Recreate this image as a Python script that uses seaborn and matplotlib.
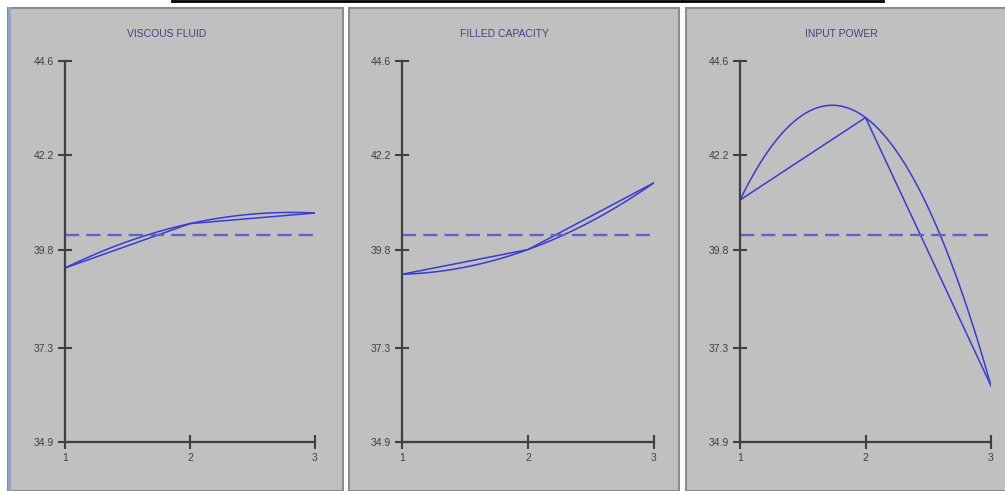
import matplotlib
matplotlib.use("Agg")
import matplotlib.pyplot as plt
from matplotlib.patches import Rectangle
from matplotlib.lines import Line2D
import numpy as np
import pandas as pd
import seaborn as sns

sns.set_style({'axes.grid': False})
plt.rcParams['font.family'] = ['Liberation Sans', 'DejaVu Sans']

# main effect means
factors = ["VISCOUS FLUID", "FILLED CAPACITY", "INPUT POWER"]
levels = [1, 2, 3]
viscous_fluid = [39.33, 40.46, 40.73]
filled_capacity = [39.17, 39.80, 41.50]
input_power = [41.06, 43.16, 36.33]
y_ticks = [34.9, 37.3, 39.8, 42.2, 44.6]

W, H = 1005, 491

def fx(px):
    return px / W

def fy(px):
    return 1 - px / H

fig = plt.figure(figsize=(W / 100, H / 100), dpi=100)
fig.patch.set_facecolor("white")

# gray panel backgrounds (pixel boxes: left, right)
panel_boxes = [(8, 343), (349, 679), (686, 1010)]
for left, right in panel_boxes:
    fig.add_artist(Rectangle((fx(left), 0), fx(right - left), fy(7.5),
                             transform=fig.transFigure, facecolor="#c0c0c0",
                             edgecolor="#8c8c8c", lw=1.5, zorder=-10))
# thin bluish edge on the far left panel
fig.add_artist(Line2D([fx(9), fx(9)], [0, fy(8)], transform=fig.transFigure,
                      color="#8fa6c6", lw=2, zorder=-5))
# black rule left over at the top
fig.add_artist(Line2D([fx(172), fx(883)], [fy(1), fy(1)], transform=fig.transFigure,
                      color="black", lw=2, zorder=-5))

axis_boxes = [(65, 315), (402, 654), (740, 991)]
top_px, bottom_px = 61, 442
all_means = [viscous_fluid, filled_capacity, input_power]
grand_mean = np.mean(np.concatenate(all_means))

line_col = "#3a3ad4"
for name, means, (left, right) in zip(factors, all_means, axis_boxes):
    ax = fig.add_axes([fx(left), fy(bottom_px), fx(right - left), (bottom_px - top_px) / H])
    ax.patch.set_alpha(0)
    df = pd.DataFrame({"level": levels, "mean": means})

    # straight segments between the level means
    sns.lineplot(data=df, x="level", y="mean", ax=ax, color=line_col, lw=1.1)
    # quadratic curve through the same points
    sns.regplot(data=df, x="level", y="mean", ax=ax, order=2, ci=None, scatter=False,
                line_kws={"color": line_col, "lw": 1.1})
    # grand mean
    ax.axhline(grand_mean, color="#6262c8", lw=1.7, dashes=(6, 3))

    ax.set_xlim(1, 3)
    ax.set_ylim(y_ticks[0], y_ticks[-1])
    ax.set_xticks(levels)
    ax.set_yticks(y_ticks)
    ax.set_yticklabels(["%.1f" % t for t in y_ticks])
    ax.set_xlabel("")
    ax.set_ylabel("")
    for side in ["top", "right"]:
        ax.spines[side].set_visible(False)
    for side in ["left", "bottom"]:
        ax.spines[side].set_color("#404040")
        ax.spines[side].set_linewidth(1.6)
    ax.tick_params(direction="inout", length=10, width=1.5, color="#404040",
                   labelsize=7.5, labelcolor="#404040", pad=3)
    ax.set_title(name, x=0.405, fontsize=7.5, color="#4a3f80", pad=17)

fig.savefig("out.png", dpi=100)
